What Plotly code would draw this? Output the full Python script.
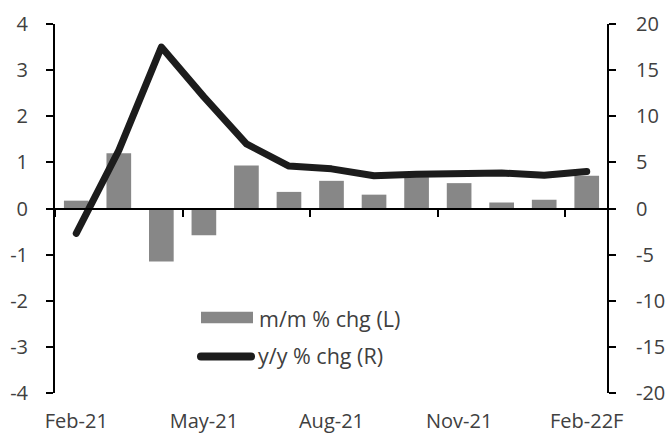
import plotly.graph_objects as go

months = ["Feb-21", "Mar-21", "Apr-21", "May-21", "Jun-21", "Jul-21", "Aug-21",
          "Sep-21", "Oct-21", "Nov-21", "Dec-21", "Jan-22", "Feb-22F"]
mm_chg = [0.17, 1.20, -1.15, -0.58, 0.93, 0.36, 0.60, 0.30, 0.68, 0.55, 0.13, 0.19, 0.71]
yy_chg = [-2.7, 6.3, 17.5, 12.1, 7.0, 4.6, 4.3, 3.55, 3.7, 3.7, 3.85, 3.6, 4.0]

left_ticks = [-4, -3, -2, -1, 0, 1, 2, 3, 4]
right_ticks = [-20, -15, -10, -5, 0, 5, 10, 15, 20]
x_label_idx = [0, 3, 6, 9, 12]

series_names = ["m/m % chg (L)", "y/y % chg (R)"]

FONT = "Open Sans"
TXT = "#404040"
BAR_C = "#878787"
LINE_C = "#1c1c1c"

xs = list(range(len(months)))

fig = go.Figure()
fig.add_trace(go.Bar(x=xs, y=mm_chg, marker=dict(color=BAR_C, line=dict(width=0)),
                     name=series_names[0], xaxis="x", yaxis="y", showlegend=False))
fig.add_trace(go.Scatter(x=xs, y=yy_chg, mode="lines", line=dict(color=LINE_C, width=7),
                         name=series_names[1], xaxis="x2", yaxis="y2", showlegend=False))

fig.update_layout(
    width=669, height=433,
    margin=dict(l=55, r=61, t=24, b=40),
    paper_bgcolor="white", plot_bgcolor="white",
    font=dict(family=FONT, size=20, color=TXT),
    bargap=0.42,
    showlegend=False,
    xaxis=dict(range=[-0.5, 12.5], tickmode="array", tickvals=[xs[i] for i in x_label_idx],
               ticktext=[months[i] for i in x_label_idx], showline=False, ticks="",
               showgrid=False, zeroline=False, ticklabelstandoff=14, automargin=False),
    xaxis2=dict(range=[-0.5, 12.5], overlaying="x", anchor="free", position=0.5,
                showline=True, linecolor="black", linewidth=2,
                tickmode="linear", tick0=-0.5, dtick=3, ticks="outside", ticklen=7,
                tickwidth=2, tickcolor="black", showticklabels=False,
                showgrid=False, zeroline=False, automargin=False),
    yaxis=dict(range=[-4, 4], tickmode="array", tickvals=left_ticks,
               ticktext=[str(v) for v in left_ticks], showline=True, linecolor="black",
               linewidth=2, ticks="outside", ticklen=7, tickwidth=2, tickcolor="black",
               showgrid=False, zeroline=False, ticklabelstandoff=14, automargin=False),
    yaxis2=dict(range=[-20, 20], overlaying="y", side="right", anchor="free", position=1,
                tickmode="array", tickvals=right_ticks, ticktext=[str(v) for v in right_ticks],
                showline=True, linecolor="black", linewidth=2, ticks="outside", ticklen=7,
                tickwidth=2, tickcolor="black", showgrid=False, zeroline=False,
                ticklabelstandoff=16, automargin=False),
)

# legend drawn as shapes + text (coordinates measured in screen pixels)
def px_x(p):
    return (p - 55) / 553.0

def px_y(p):
    return (393.0 - p) / 369.0

fig.add_shape(type="rect", xref="paper", yref="paper",
              x0=px_x(201), x1=px_x(253), y0=px_y(323.3), y1=px_y(311.7),
              fillcolor=BAR_C, line=dict(width=0))
fig.add_shape(type="line", xref="paper", yref="paper",
              x0=px_x(201), x1=px_x(251), y0=px_y(356.5), y1=px_y(356.5),
              line=dict(color=LINE_C, width=8))
fig.add_annotation(text=series_names[0], xref="paper", yref="paper",
                   x=px_x(257), y=px_y(318), xanchor="left", yanchor="middle",
                   showarrow=False, font=dict(family=FONT, size=21.5, color=TXT))
fig.add_annotation(text=series_names[1], xref="paper", yref="paper",
                   x=px_x(256), y=px_y(355), xanchor="left", yanchor="middle",
                   showarrow=False, font=dict(family=FONT, size=21.5, color=TXT))

# remove the default 8px page margin so the 669x433 figure fills the window exactly,
# and give the thick lines round ends like the reference
post = (
    "document.body.style.margin='0';document.body.style.overflow='hidden';"
    "document.querySelectorAll('.scatterlayer path.js-line, .shapelayer path')"
    ".forEach(function(p){p.style.strokeLinecap='round';p.style.strokeLinejoin='round';});"
)
fig.write_html(
    "out.html",
    config={"displayModeBar": False, "staticPlot": True},
    post_script=post,
)
